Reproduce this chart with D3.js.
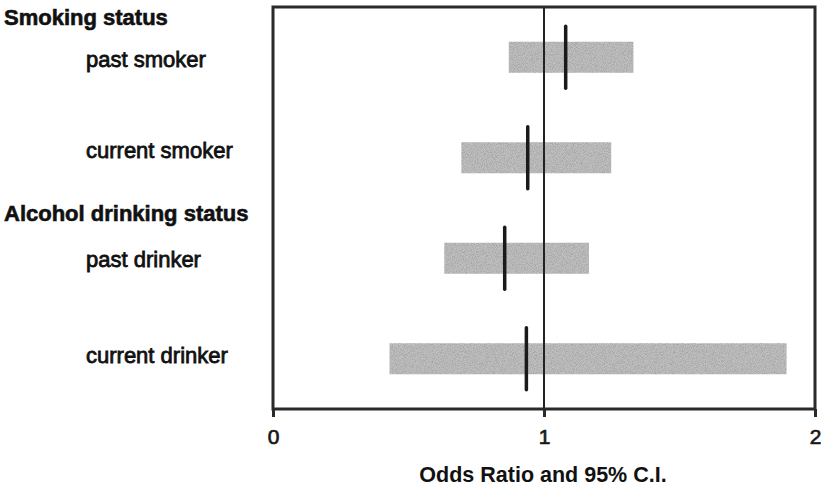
<!DOCTYPE html>
<html>
<head>
<meta charset="utf-8">
<script src="https://cdn.jsdelivr.net/npm/d3@7"></script>
<style>
  html, body { margin: 0; padding: 0; background: #fff; }
  svg { display: block; }
  text { font-family: "Liberation Sans", Arial, Helvetica, sans-serif; fill: #111; }
</style>
</head>
<body>
<svg id="chart" width="821" height="488"></svg>
<script>
// Odds ratios with 95% confidence intervals
const groups = ["Smoking status", "Alcohol drinking status"];
const categories = ["past smoker", "current smoker", "past drinker", "current drinker"];
const oddsRatio = [1.08, 0.94, 0.855, 0.935];
const ciLow = [0.87, 0.695, 0.632, 0.43];
const ciHigh = [1.33, 1.248, 1.166, 1.895];
const xTicks = [0, 1, 2];
const xTitle = "Odds Ratio and 95% C.I.";

const svg = d3.select("#chart");
const plot = { left: 273, right: 815, top: 7, bottom: 409 };

// light grain on the interval bars
const defs = svg.append("defs");
const grain = defs.append("filter").attr("id", "grain")
  .attr("x", 0).attr("y", 0).attr("width", 1).attr("height", 1);
grain.append("feTurbulence").attr("type", "fractalNoise")
  .attr("baseFrequency", 1.1).attr("numOctaves", 2).attr("seed", 3).attr("result", "noise");
grain.append("feColorMatrix").attr("in", "noise").attr("type", "matrix")
  .attr("values", "0 0 0 0 0  0 0 0 0 0  0 0 0 0 0  0 0 0 0.7 -0.25").attr("result", "specks");
grain.append("feComposite").attr("in", "specks").attr("in2", "SourceGraphic")
  .attr("operator", "in").attr("result", "clipped");
const merge = grain.append("feMerge");
merge.append("feMergeNode").attr("in", "SourceGraphic");
merge.append("feMergeNode").attr("in", "clipped");

const x = d3.scaleLinear().domain([0, 2]).range([plot.left, plot.right]);
const y = d3.scaleBand().domain(categories).range([plot.top, plot.bottom]);
const rowY = d => y(d) + y.bandwidth() / 2;

// CI bars
svg.append("g").selectAll("rect")
  .data(categories)
  .join("rect")
  .attr("x", (d, i) => x(ciLow[i]))
  .attr("width", (d, i) => x(ciHigh[i]) - x(ciLow[i]))
  .attr("y", d => rowY(d) - 15.5)
  .attr("height", 31)
  .attr("fill", "#c0c0c0")
  .attr("filter", "url(#grain)");

// reference line at OR = 1
svg.append("line")
  .attr("x1", x(1)).attr("x2", x(1))
  .attr("y1", plot.top).attr("y2", plot.bottom)
  .attr("stroke", "#222").attr("stroke-width", 2);

// point estimates
svg.append("g").selectAll("line")
  .data(categories)
  .join("line")
  .attr("x1", (d, i) => x(oddsRatio[i]))
  .attr("x2", (d, i) => x(oddsRatio[i]))
  .attr("y1", d => rowY(d) - 31)
  .attr("y2", d => rowY(d) + 31)
  .attr("stroke", "#1a1a1a").attr("stroke-width", 3.5)
  .attr("stroke-linecap", "round");

// frame
svg.append("rect")
  .attr("x", plot.left).attr("y", plot.top)
  .attr("width", plot.right - plot.left).attr("height", plot.bottom - plot.top)
  .attr("fill", "none").attr("stroke", "#2a2a2a").attr("stroke-width", 3);

// x axis
const xAxis = svg.append("g")
  .attr("transform", `translate(0,${plot.bottom})`)
  .call(d3.axisBottom(x).tickValues(xTicks).tickFormat(d3.format("d")).tickSize(8).tickPadding(12));
xAxis.select(".domain").remove();
xAxis.selectAll(".tick line").attr("stroke", "#2a2a2a").attr("stroke-width", 3);
xAxis.selectAll(".tick text")
  .style("font-family", "'Liberation Sans', Arial, sans-serif")
  .style("font-size", "21px").attr("fill", "#222")
  .attr("stroke", "#222").attr("stroke-width", 0.7);

svg.append("text")
  .attr("x", x(1) - 1).attr("y", 482)
  .attr("text-anchor", "middle")
  .style("font-size", "21.5px").style("font-weight", "bold")
  .text(xTitle);

// group headings and category labels
const groupY = [25, 221];
svg.append("g").selectAll("text")
  .data(groups)
  .join("text")
  .attr("x", 4).attr("y", (d, i) => groupY[i])
  .style("font-size", "22px").style("font-weight", "bold")
  .attr("stroke", "#111").attr("stroke-width", 0.6)
  .text(d => d);

const labelY = [67, 158, 267, 363];
svg.append("g").selectAll("text")
  .data(categories)
  .join("text")
  .attr("x", 86).attr("y", (d, i) => labelY[i])
  .style("font-size", "22px")
  .attr("stroke", "#111").attr("stroke-width", 0.8)
  .text(d => d);
</script>
</body>
</html>
